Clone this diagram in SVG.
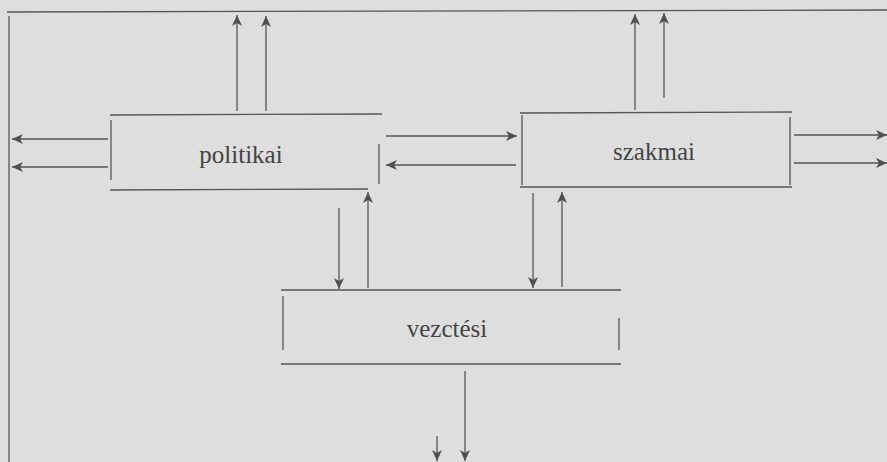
<svg xmlns="http://www.w3.org/2000/svg" width="887" height="462" viewBox="0 0 887 462">
<defs>
<marker id="ah" markerUnits="userSpaceOnUse" markerWidth="12" markerHeight="12" viewBox="0 0 12 12" refX="11" refY="6" orient="auto">
<path d="M0,1 L11,6 L0,11 L3,6 z" fill="#505050"/>
</marker>
<style>
.ln{stroke:#555;stroke-width:1.3;fill:none}
.bx{stroke:#555;stroke-width:1.3;fill:none}
.c{stroke:#555;stroke-width:1.3;fill:none;marker-end:url(#ah)}
.t{font-family:"Liberation Serif","Times New Roman",serif;font-size:25px;fill:#444;text-anchor:middle}
</style>
</defs>
<rect width="887" height="462" fill="#dedede"/>
<g id="frame">
<line class="ln" x1="7" y1="12" x2="887" y2="10"/>
<line class="ln" x1="9" y1="16" x2="9" y2="462"/>
</g>
<g id="politikai">
<line class="bx" x1="110" y1="115" x2="382" y2="114"/>
<line class="bx" x1="110" y1="190" x2="368" y2="189"/>
<line class="bx" x1="111" y1="120" x2="111" y2="180"/>
<line class="bx" x1="379" y1="144" x2="379" y2="184"/>
<text class="t" x="241" y="163">politikai</text>
</g>
<g id="szakmai">
<line class="bx" x1="520" y1="113" x2="792" y2="112"/>
<line class="bx" x1="520" y1="187" x2="792" y2="187"/>
<line class="bx" x1="522" y1="115" x2="522" y2="185"/>
<line class="bx" x1="790" y1="117" x2="790" y2="185"/>
<text class="t" x="654" y="160">szakmai</text>
</g>
<g id="vezetesi">
<line class="bx" x1="281" y1="290" x2="621" y2="290"/>
<line class="bx" x1="281" y1="364" x2="621" y2="364"/>
<line class="bx" x1="283" y1="296" x2="283" y2="350"/>
<line class="bx" x1="619" y1="318" x2="619" y2="350"/>
<text class="t" x="447" y="337">vezctési</text>
</g>
<g id="connectors">
<line class="c" x1="237" y1="111" x2="237" y2="15"/>
<line class="c" x1="266" y1="111" x2="266" y2="16"/>
<line class="c" x1="108" y1="139" x2="12" y2="139"/>
<line class="c" x1="108" y1="167" x2="12" y2="167"/>
<line class="c" x1="386" y1="136" x2="517" y2="136"/>
<line class="c" x1="516" y1="165" x2="386" y2="165"/>
<line class="c" x1="635" y1="110" x2="635" y2="14"/>
<line class="c" x1="664" y1="98" x2="664" y2="13"/>
<line class="c" x1="794" y1="135" x2="887" y2="135"/>
<line class="c" x1="794" y1="163" x2="887" y2="163"/>
<line class="c" x1="339" y1="208" x2="339" y2="289"/>
<line class="c" x1="368" y1="288" x2="368" y2="192"/>
<line class="c" x1="533" y1="193" x2="533" y2="288"/>
<line class="c" x1="562" y1="287" x2="562" y2="192"/>
<line class="c" x1="465" y1="371" x2="465" y2="461"/>
<line class="c" x1="437" y1="436" x2="437" y2="461"/>
</g>
</svg>
